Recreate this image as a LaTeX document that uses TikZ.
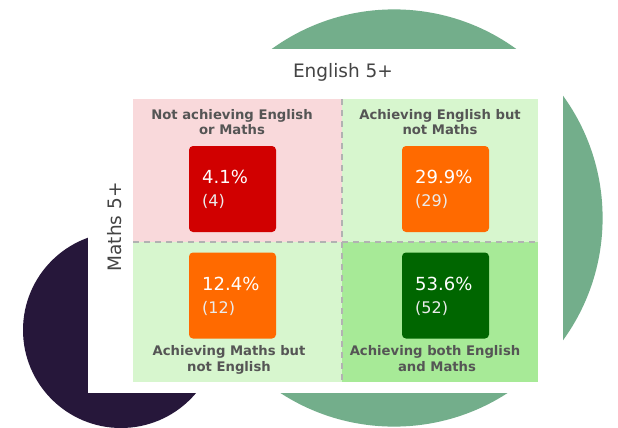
\documentclass[tikz,border=0pt]{standalone}
\usepackage{fontspec}
\setmainfont{DejaVu Sans}
\begin{document}
\begin{tikzpicture}[x=1pt,y=-1pt,
  divider/.style={draw=gray!60,line width=1.4pt,dash pattern=on 6pt off 5pt},
  valbox/.style={rounded corners=4pt,minimum width=87pt,minimum height=86pt,inner sep=0pt,draw=none},
  pct/.style={anchor=base west,text=white,inner sep=0pt,font=\fontsize{18}{20}\selectfont},
  cnt/.style={anchor=base west,text=white!92!black,inner sep=0pt,font=\fontsize{16}{18}\selectfont},
  head/.style={anchor=base,text=headgray,inner sep=0pt,font=\bfseries\fontsize{13.2}{15}\selectfont},
  axis/.style={anchor=base,text=axisgray,inner sep=0pt,font=\fontsize{18.5}{20}\selectfont}]
\definecolor{circgreen}{HTML}{73AE8B}
\definecolor{circdark}{HTML}{26173A}
\definecolor{pinkq}{HTML}{F9D9DB}
\definecolor{lgreenq}{HTML}{D7F6CE}
\definecolor{dgreenq}{HTML}{A7EA97}
\definecolor{boxred}{HTML}{D10000}
\definecolor{boxorange}{HTML}{FF6A00}
\definecolor{boxgreen}{HTML}{006600}
\definecolor{headgray}{HTML}{555555}
\definecolor{axisgray}{HTML}{444444}
\useasboundingbox (0,0) rectangle (618,428);
\fill[white] (0,0) rectangle (618,428);
% background circles
\fill[circgreen] (394,218) circle[radius=208.6pt];
\fill[circdark] (121,330) circle[radius=98pt];
% white panel
\fill[white] (88,49) rectangle (563,393);
% quadrants
\fill[pinkq]   (133,99)  rectangle (342,242);
\fill[lgreenq] (342,99)  rectangle (538,242);
\fill[lgreenq] (133,242) rectangle (342,382);
\fill[dgreenq] (342,242) rectangle (538,382);
\coordinate (vtop) at (342,99);
\coordinate (vbot) at (342,382);
\coordinate (hl) at (133,242);
\coordinate (hr) at (538,242);
\draw[divider] (vtop) -- (vbot);
\draw[divider] (hl) -- (hr);
% axis labels
\node[axis] (eng) at (343,77.3) {English 5+};
\node[axis,rotate=90] (mat) at (121.7,227) {Maths 5+};
% headings
\node[head] (h1a) at (232,119) {Not achieving English};
\node[head] (h1b) at (232,134.3) {or Maths};
\node[head] (h2a) at (440,119) {Achieving English but};
\node[head] (h2b) at (440,134.3) {not Maths};
\node[head] (h3a) at (229,355.3) {Achieving Maths but};
\node[head] (h3b) at (229,371) {not English};
\node[head] (h4a) at (435,355.3) {Achieving both English};
\node[head] (h4b) at (437,371) {and Maths};
% value boxes
\node[valbox,fill=boxred]    (b1) at (232.5,189) {};
\node[valbox,fill=boxorange] (b2) at (445.5,189) {};
\node[valbox,fill=boxorange] (b3) at (232.5,295.5) {};
\node[valbox,fill=boxgreen]  (b4) at (445.5,295.5) {};
\node[pct] (p1) at (202,183.5) {4.1\%};
\node[cnt] (c1) at (202,206.7) {(4)};
\node[pct] (p2) at (415,183.5) {29.9\%};
\node[cnt] (c2) at (415,206.7) {(29)};
\node[pct] (p3) at (202,290) {12.4\%};
\node[cnt] (c3) at (202,313.3) {(12)};
\node[pct] (p4) at (415,290) {53.6\%};
\node[cnt] (c4) at (415,313.3) {(52)};
\end{tikzpicture}
\end{document}
